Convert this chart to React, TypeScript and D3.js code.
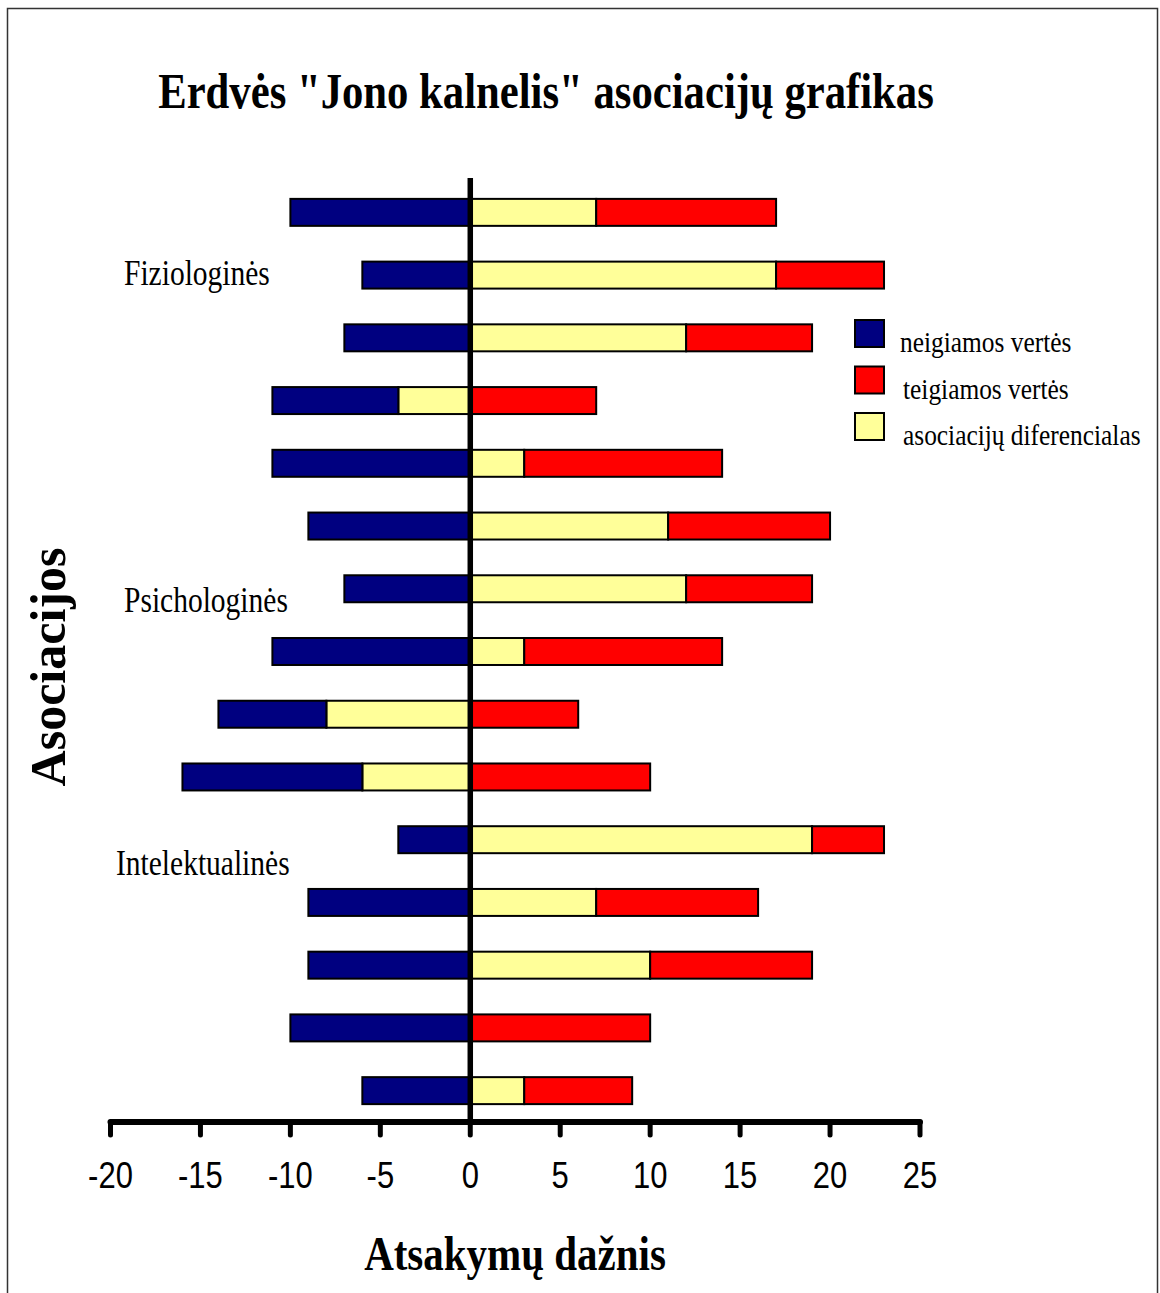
import React from "react";
import * as d3 from "d3";

// 15 association rows (top to bottom)
const rows = ["r1","r2","r3","r4","r5","r6","r7","r8","r9","r10","r11","r12","r13","r14","r15"];
// stacked segments
const diferencialas = [7, 17, 12, -4, 3, 11, 12, 3, -8, -6, 19, 7, 10, 0, 3];
const teigiamos = [10, 6, 7, 7, 11, 9, 7, 11, 6, 10, 4, 9, 9, 10, 6];
const neigiamos = [-10, -6, -7, -7, -11, -9, -7, -11, -6, -10, -4, -9, -9, -10, -6];

const xTicks = [-20, -15, -10, -5, 0, 5, 10, 15, 20, 25];
const groupLabels = [
  { text: "Fiziologinės", x: 124, y: 285 },
  { text: "Psichologinės", x: 124, y: 612 },
  { text: "Intelektualinės", x: 116, y: 875 },
];
const seriesKeys = ["diferencialas", "teigiamos", "neigiamos"];
const colors: Record<string, string> = {
  neigiamos: "#000080",
  teigiamos: "#FF0000",
  diferencialas: "#FFFF99",
};
const legendItems = [
  { key: "neigiamos", label: "neigiamos vertės" },
  { key: "teigiamos", label: "teigiamos vertės" },
  { key: "diferencialas", label: "asociacijų diferencialas" },
];

const SERIF = "'Liberation Serif', 'Times New Roman', serif";
const SANS = "'Liberation Sans', Arial, sans-serif";
const SY = 1.2;

function SText(props: { x: number; y: number; size: number; anchor?: string; bold?: boolean; family?: string; children: React.ReactNode }) {
  const { x, y, size, anchor = "start", bold = false, family = SERIF, children } = props;
  return (
    <text
      transform={`translate(${x},${y}) scale(1,${SY})`}
      fontFamily={family}
      fontSize={size}
      fontWeight={bold ? "bold" : "normal"}
      textAnchor={anchor}
      fill="#000"
    >
      {children}
    </text>
  );
}

export default function App() {
  const W = 1160, H = 1293;
  const x = d3.scaleLinear().domain([-20, 25]).range([110.5, 920]);
  const y = d3.scaleBand<string>().domain(rows).range([181, 1122]).paddingInner(0.57).paddingOuter(0.285);

  const table = rows.map((r, i) => ({
    row: r,
    diferencialas: diferencialas[i],
    teigiamos: teigiamos[i],
    neigiamos: neigiamos[i],
  }));
  const stacked = d3.stack<any>().keys(seriesKeys).offset(d3.stackOffsetDiverging)(table);

  const axisY = 1122;

  return (
    <svg width={W} height={H} style={{ position: "absolute", left: 0, top: 0, background: "#fff" }}>
      <rect x={7.5} y={8.5} width={1150} height={1310} fill="#fff" stroke="#333" strokeWidth={1.5} />

      <SText x={546} y={108} size={42.7} anchor="middle" bold>
        Erdvės "Jono kalnelis" asociacijų grafikas
      </SText>

      {stacked.map((s) => (
        <g key={s.key}>
          {s.map((d, i) => {
            const x0 = x(Math.min(d[0], d[1]));
            const x1 = x(Math.max(d[0], d[1]));
            if (x1 - x0 < 0.5) return null;
            return (
              <rect
                key={i}
                x={x0}
                y={y(rows[i])!}
                width={x1 - x0}
                height={y.bandwidth()}
                fill={colors[s.key]}
                stroke="#000"
                strokeWidth={2}
              />
            );
          })}
        </g>
      ))}

      <line x1={x(0)} x2={x(0)} y1={178} y2={axisY} stroke="#000" strokeWidth={5.5} />

      <line x1={x(-20)} x2={x(25)} y1={axisY} y2={axisY} stroke="#000" strokeWidth={6} strokeLinecap="round" />
      {xTicks.map((t) => (
        <g key={t}>
          <line x1={x(t)} x2={x(t)} y1={axisY} y2={1135} stroke="#000" strokeWidth={5} strokeLinecap="round" />
          <SText x={x(t)} y={1188} size={31} anchor="middle" family={SANS}>
            {String(t)}
          </SText>
        </g>
      ))}

      <SText x={515} y={1270} size={41} anchor="middle" bold>
        Atsakymų dažnis
      </SText>

      <text
        transform={`translate(65,667) rotate(-90)`}
        fontFamily={SERIF}
        fontSize={50}
        fontWeight="bold"
        textAnchor="middle"
        fill="#000"
      >
        Asociacijos
      </text>

      {groupLabels.map((g) => (
        <SText key={g.text} x={g.x} y={g.y} size={29.5}>
          {g.text}
        </SText>
      ))}

      {legendItems.map((l, i) => (
        <g key={l.key}>
          <rect x={855} y={320 + i * 46.5} width={29} height={27} fill={colors[l.key]} stroke="#000" strokeWidth={2} />
          <SText x={i === 0 ? 900 : 903} y={352 + i * 46.5} size={25.4}>
            {l.label}
          </SText>
        </g>
      ))}
    </svg>
  );
}
